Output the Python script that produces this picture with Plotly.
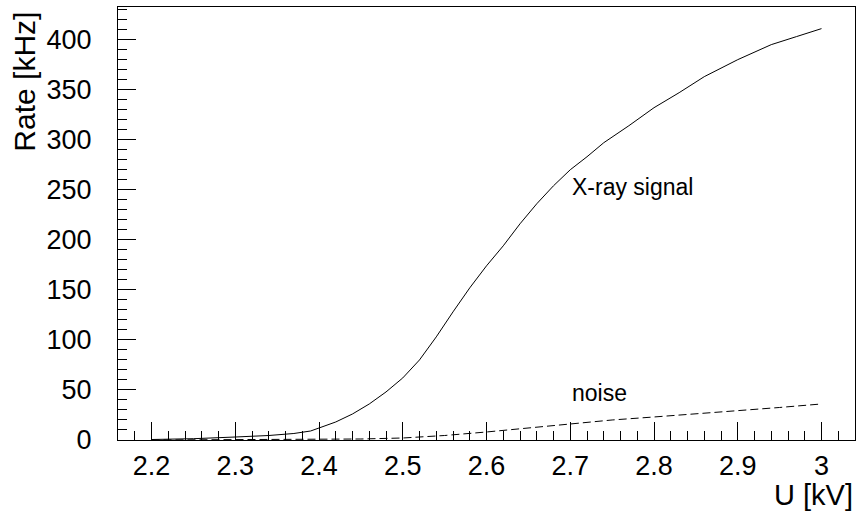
import plotly.graph_objects as go

# X-ray signal rate vs high voltage
u_signal = [2.20, 2.25, 2.30, 2.34, 2.37, 2.39, 2.40, 2.42, 2.44, 2.46, 2.48, 2.50,
            2.52, 2.54, 2.56, 2.58, 2.60, 2.62, 2.64, 2.66, 2.68, 2.70, 2.72, 2.74,
            2.77, 2.80, 2.83, 2.86, 2.90, 2.94, 2.97, 3.00]
rate_signal = [0.5, 1.3, 3, 4.5, 6.5, 9, 12, 18, 26, 36, 48, 62,
               80, 103, 128, 152, 174, 194, 216, 236, 254, 270, 283, 297,
               314, 332, 347, 363, 380, 395, 403, 411]

# noise rate
u_noise = [2.20, 2.30, 2.40, 2.45, 2.50, 2.55, 2.60, 2.65, 2.70, 2.75, 2.80, 2.85, 2.90, 2.95, 3.00]
rate_noise = [0, 0.2, 0.5, 1, 2, 4.5, 8, 12, 16, 20, 23, 26, 29, 32.5, 36]

x_range = [2.16, 3.04]
y_range = [0, 432.6]
x_ticks = [2.2, 2.3, 2.4, 2.5, 2.6, 2.7, 2.8, 2.9, 3.0]
x_ticktext = ["2.2", "2.3", "2.4", "2.5", "2.6", "2.7", "2.8", "2.9", "3"]
y_ticks = [0, 50, 100, 150, 200, 250, 300, 350, 400]

FONT = "Liberation Sans, Arial, Helvetica, sans-serif"

fig = go.Figure()
fig.add_trace(go.Scatter(x=u_signal, y=rate_signal, mode="lines",
                         line=dict(color="black", width=1), showlegend=False))
fig.add_trace(go.Scatter(x=u_noise, y=rate_noise, mode="lines",
                         line=dict(color="black", width=1, dash="8px,4px"), showlegend=False))

fig.add_annotation(x=2.7, y=253, text="X-ray signal", showarrow=False, xanchor="left",
                   yanchor="middle", font=dict(family=FONT, size=23, color="black"))
fig.add_annotation(x=2.7, y=47, text="noise", showarrow=False, xanchor="left",
                   yanchor="middle", font=dict(family=FONT, size=23, color="black"))

# axis titles placed ROOT-style (at the far end of each axis)
fig.add_annotation(xref="paper", yref="paper", x=1.0, y=-0.085, text="U [kV]",
                   showarrow=False, xanchor="right", yanchor="top",
                   font=dict(family=FONT, size=29, color="black"))
fig.add_annotation(xref="paper", yref="paper", x=-0.152, y=0.995, text="Rate [kHz]",
                   showarrow=False, xanchor="left", yanchor="top", textangle=-90,
                   font=dict(family=FONT, size=30, color="black"))

fig.update_xaxes(range=x_range, tickvals=x_ticks, ticktext=x_ticktext,
                 ticks="inside", ticklen=18, tickwidth=1, tickcolor="black",
                 minor=dict(dtick=0.02, tick0=2.2, ticks="inside", ticklen=9,
                            tickwidth=1, tickcolor="black", showgrid=False),
                 showline=True, linecolor="black", linewidth=1, mirror=True,
                 showgrid=False, zeroline=False, ticklabelstandoff=2,
                 tickfont=dict(family=FONT, size=27, color="black"))
fig.update_yaxes(range=y_range, tickvals=y_ticks,
                 ticks="inside", ticklen=18, tickwidth=1, tickcolor="black",
                 minor=dict(dtick=10, tick0=0, ticks="inside", ticklen=9,
                            tickwidth=1, tickcolor="black", showgrid=False),
                 showline=True, linecolor="black", linewidth=1, mirror=True,
                 showgrid=False, zeroline=False, ticklabelstandoff=20,
                 tickfont=dict(family=FONT, size=27, color="black"))

fig.update_layout(width=859, height=516, margin=dict(l=118, r=4, t=7, b=76),
                  plot_bgcolor="white", paper_bgcolor="white",
                  font=dict(family=FONT, color="black"))

fig.write_html("out.html")
